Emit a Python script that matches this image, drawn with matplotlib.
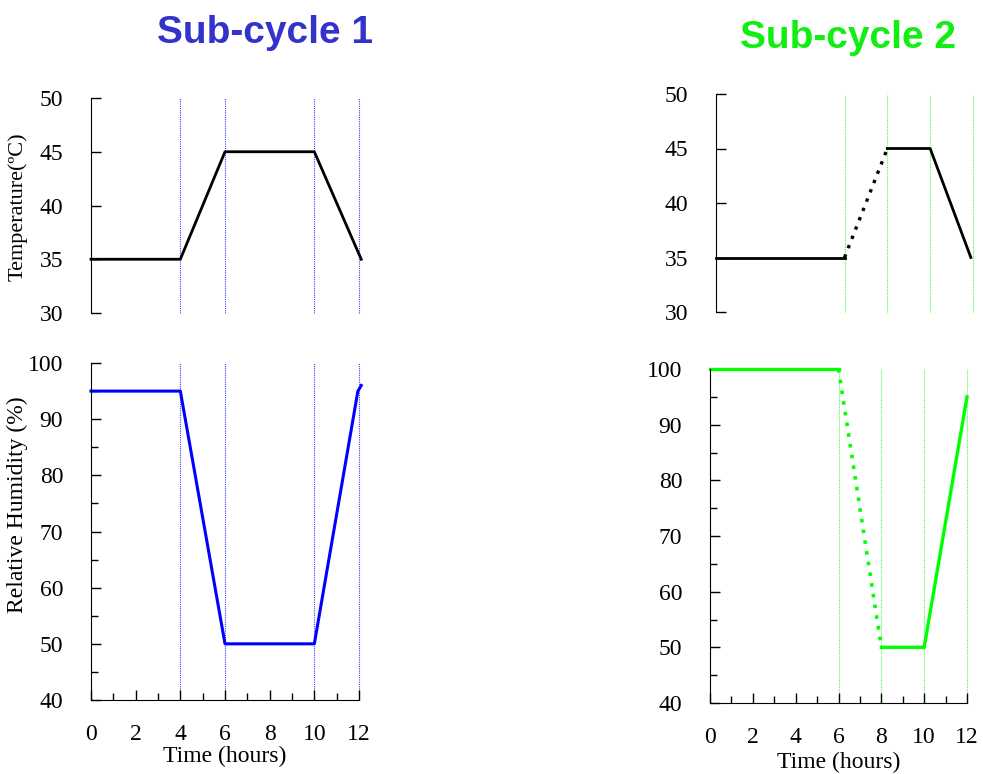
import matplotlib
matplotlib.use('Agg')
import matplotlib.pyplot as plt
from matplotlib.ticker import MultipleLocator

plt.rcParams['font.family'] = 'Liberation Serif'

# Sub-cycle 1
t1_time = [0, 4, 6, 10, 12.1]
t1_temp = [35, 35, 45, 45, 35]
rh1_time = [0, 4, 6, 10, 11.95, 12.1]
rh1_val = [95, 95, 50, 50, 95, 96]
vlines1 = [4, 6, 10, 12]

# Sub-cycle 2 (solid / dotted segments)
t2_solid_a = ([0, 6], [35, 35])
t2_dotted = ([6, 8], [35, 45])
t2_solid_b = ([8, 10, 11.9], [45, 45, 35])
rh2_solid_a = ([0, 6], [100, 100])
rh2_dotted = ([6, 8], [100, 50])
rh2_solid_b = ([8, 10, 12], [50, 50, 95])
vlines2 = [6, 8, 10, 12]

fig = plt.figure(figsize=(9.83, 7.74), dpi=100)
W, H = 983, 774

def add_ax(x0, x1, ytop, ybot):
    return fig.add_axes([x0 / W, 1 - ybot / H, (x1 - x0) / W, (ybot - ytop) / H])

def style(ax, ylim, ymaj, ymin, xaxis, lpad=2):
    ax.set_ylim(*ylim)
    ax.set_xlim(0, 12)
    for s in ['top', 'right']:
        ax.spines[s].set_visible(False)
    ax.yaxis.set_major_locator(MultipleLocator(ymaj))
    if ymin:
        ax.yaxis.set_minor_locator(MultipleLocator(ymin))
    ax.tick_params(axis='y', which='major', direction='in', length=7, width=1,
                   pad=20, labelsize=17)
    ax.tick_params(axis='y', which='minor', direction='in', length=5, width=1)
    if xaxis:
        ax.xaxis.set_major_locator(MultipleLocator(2))
        ax.xaxis.set_minor_locator(MultipleLocator(1))
        ax.tick_params(axis='x', which='major', direction='in', length=7, width=1,
                       pad=17, labelsize=17)
        ax.tick_params(axis='x', which='minor', direction='in', length=5, width=1)
        ax.set_xlabel('Time (hours)', fontsize=17, labelpad=lpad)
    else:
        ax.spines['bottom'].set_visible(False)
        ax.set_xticks([])

def vl(ax, xs, color):
    for x in xs:
        ax.axvline(x, color=color, lw=0.8, ls=(0, (1, 1)), clip_on=False, zorder=1)

# Left top
ax = add_ax(91, 359, 98, 313)
style(ax, (30, 50), 5, None, False)
vl(ax, vlines1, '#3344ff')
ax.plot(t1_time, t1_temp, color='black', lw=2, clip_on=False)

# Left bottom
ax = add_ax(91, 359, 363, 700)
style(ax, (40, 100), 10, 5, True, lpad=1)
vl(ax, vlines1, '#3344ff')
ax.plot(rh1_time, rh1_val, color='#0000ff', lw=2.2, clip_on=False)

# Right top
ax = add_ax(716, 973, 94, 312)
style(ax, (30, 50), 5, None, False)
vl(ax, vlines2, '#44ff44')
ax.plot(*t2_solid_a, color='black', lw=2, clip_on=False)
ax.plot(*t2_dotted, color='black', lw=2.4, ls=(0, (1, 2)), clip_on=False)
ax.plot(*t2_solid_b, color='black', lw=2, clip_on=False)

# Right bottom
ax = add_ax(710, 967, 369, 703)
style(ax, (40, 100), 10, 5, True, lpad=3)
vl(ax, vlines2, '#44ff44')
ax.plot(*rh2_solid_a, color='#00ff00', lw=2.4, clip_on=False)
ax.plot(*rh2_dotted, color='#00ff00', lw=2.6, ls=(0, (1, 2)), clip_on=False)
ax.plot(*rh2_solid_b, color='#00ff00', lw=2.4, clip_on=False)

fig.text(18 / W, 1 - 207 / H, 'Temperature(ºC)', rotation=90, fontsize=16,
         ha='center', va='center')
fig.text(17 / W, 1 - 505 / H, 'Relative Humidity (%)', rotation=90, fontsize=17,
         ha='center', va='center')

fig.text(265 / W, 1 - 33 / H, 'Sub-cycle 1', fontsize=28, fontweight='bold',
         family='Liberation Sans', color='#3333cc', ha='center', va='center')
fig.text(848 / W, 1 - 38 / H, 'Sub-cycle 2', fontsize=28, fontweight='bold',
         family='Liberation Sans', color='#11ee11', ha='center', va='center')

fig.savefig('out.png', dpi=100)
